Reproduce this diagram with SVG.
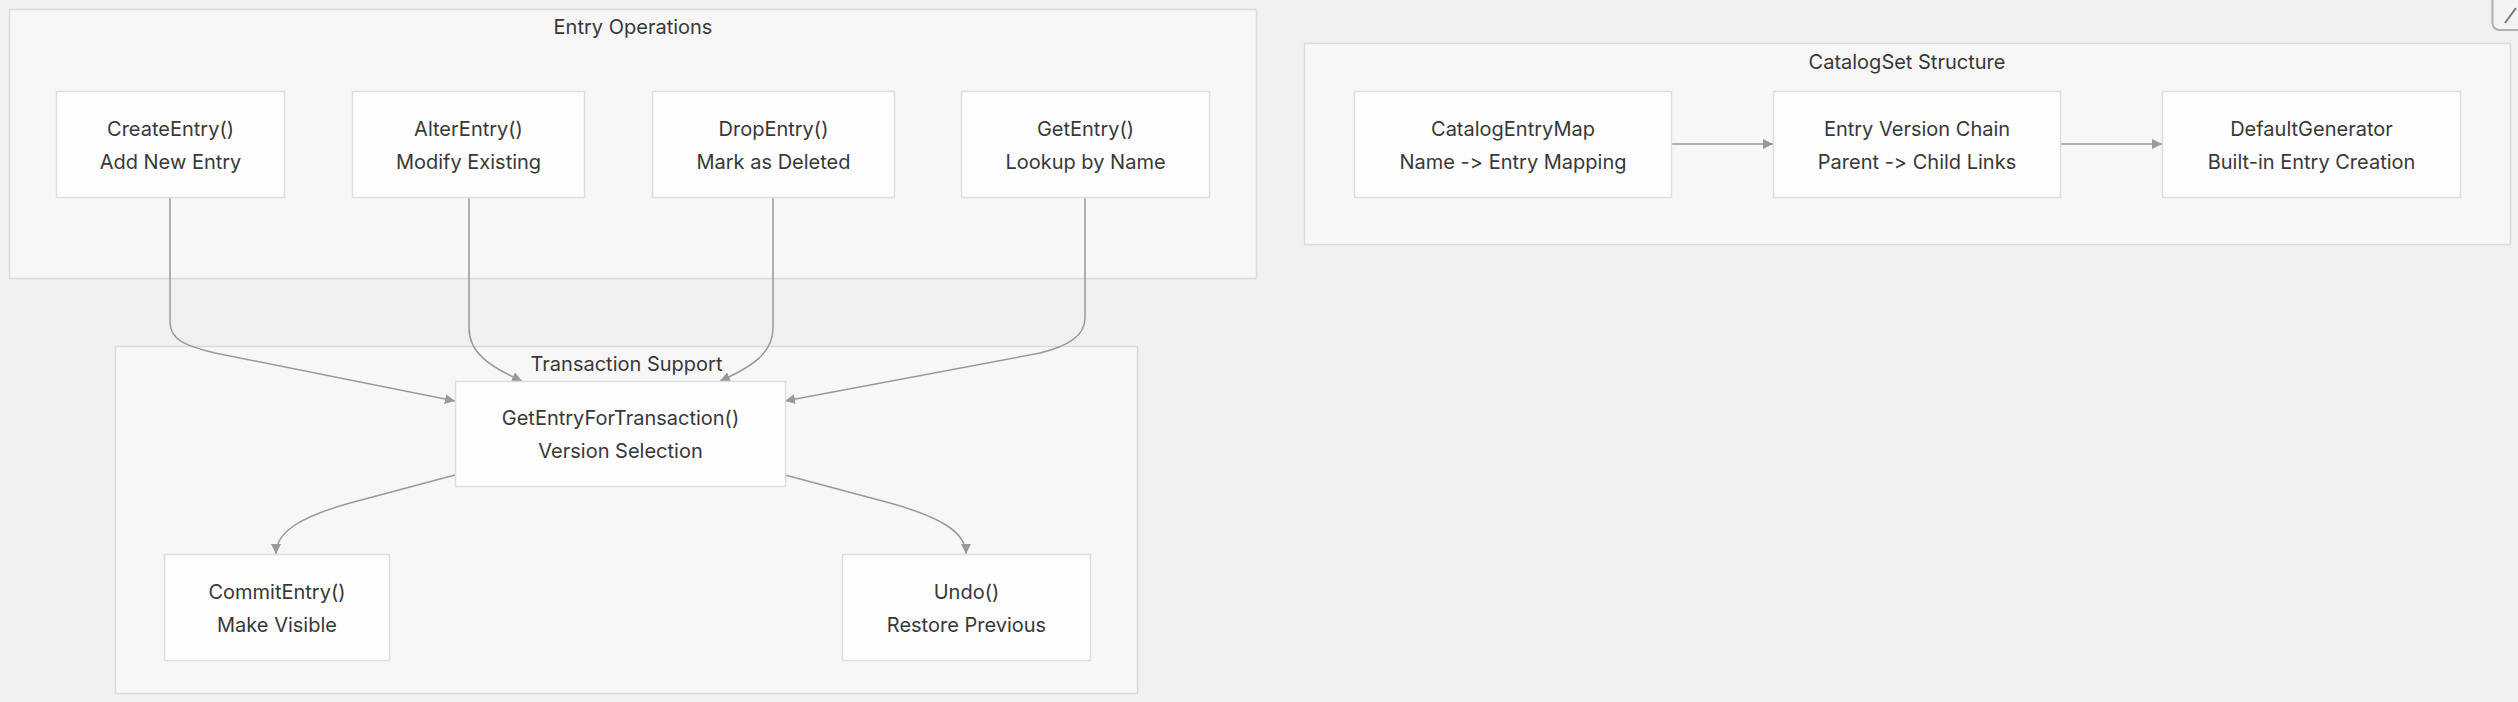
<svg xmlns="http://www.w3.org/2000/svg" width="2518" height="702" viewBox="0 0 2518 702">
<style>
.bg{fill:#f1f0ee}
.cluster{fill:#f7f7f7;stroke:#dadada;stroke-width:1.5}
.node rect{fill:#fefefe;stroke:#dedede;stroke-width:1.5}
text{font-family:Inter,"Liberation Sans",Arial,sans-serif;font-size:20px;fill:#383838;text-anchor:middle;font-variant-ligatures:none;font-feature-settings:"calt" 0,"liga" 0}
.edge{fill:none;stroke:#999;stroke-width:1.5}
</style>
<defs>
<marker id="arr" viewBox="0 0 10 10" refX="10" refY="5" markerWidth="10" markerHeight="10" markerUnits="userSpaceOnUse" orient="auto"><path d="M0,0 L10,5 L0,10 z" fill="#999"/></marker>
</defs>
<rect class="bg" x="0" y="0" width="2518" height="702"/>
<g id="cluster-entry-ops"><rect class="cluster" x="9.5" y="9.5" width="1247" height="269"/><text x="633" y="34">Entry Operations</text></g>
<g id="cluster-catalogset"><rect class="cluster" x="1304.5" y="43.5" width="1206" height="201"/><text x="1907" y="69">CatalogSet Structure</text></g>
<g id="cluster-transaction"><rect class="cluster" x="115.5" y="346.5" width="1022" height="347"/><text x="626.5" y="371">Transaction Support</text></g>

<g id="connectors">
<path class="edge" d="M170,197 L170,322 C170,340 186,346 215,353 L455,401" marker-end="url(#arr)"/>
<path class="edge" d="M469,197 L469,328 C469,352 488,366 522,381" marker-end="url(#arr)"/>
<path class="edge" d="M773,197 L773,328 C773,352 754,366 720,381" marker-end="url(#arr)"/>
<path class="edge" d="M1085,197 L1085,318 C1085,336 1068,346 1040,353 L785,401" marker-end="url(#arr)"/>
<path class="edge" d="M455,475 L350,503 C300,517 276,532 276,554" marker-end="url(#arr)"/>
<path class="edge" d="M785,475 L890,503 C940,517 966,532 966,554" marker-end="url(#arr)"/>
<path class="edge" d="M1671,144 L1773,144" marker-end="url(#arr)"/>
<path class="edge" d="M2060,144 L2162,144" marker-end="url(#arr)"/>
</g>

<g id="node-create" class="node"><rect x="56.5" y="91.5" width="228" height="106"/><text x="170.5" y="136">CreateEntry()</text><text x="170.5" y="169">Add New Entry</text></g>
<g id="node-alter" class="node"><rect x="352.5" y="91.5" width="232" height="106"/><text x="468.5" y="136">AlterEntry()</text><text x="468.5" y="169">Modify Existing</text></g>
<g id="node-drop" class="node"><rect x="652.5" y="91.5" width="242" height="106"/><text x="773.5" y="136">DropEntry()</text><text x="773.5" y="169">Mark as Deleted</text></g>
<g id="node-get" class="node"><rect x="961.5" y="91.5" width="248" height="106"/><text x="1085.5" y="136">GetEntry()</text><text x="1085.5" y="169">Lookup by Name</text></g>

<g id="node-map" class="node"><rect x="1354.5" y="91.5" width="317" height="106"/><text x="1513" y="136">CatalogEntryMap</text><text x="1513" y="169">Name -&gt; Entry Mapping</text></g>
<g id="node-chain" class="node"><rect x="1773.5" y="91.5" width="287" height="106"/><text x="1917" y="136">Entry Version Chain</text><text x="1917" y="169">Parent -&gt; Child Links</text></g>
<g id="node-default" class="node"><rect x="2162.5" y="91.5" width="298" height="106"/><text x="2311.5" y="136">DefaultGenerator</text><text x="2311.5" y="169">Built-in Entry Creation</text></g>

<g id="node-geft" class="node"><rect x="455.5" y="381.5" width="330" height="105"/><text x="620.5" y="425">GetEntryForTransaction()</text><text x="620.5" y="458">Version Selection</text></g>
<g id="node-commit" class="node"><rect x="164.5" y="554.5" width="225" height="106"/><text x="277" y="599">CommitEntry()</text><text x="277" y="632">Make Visible</text></g>
<g id="node-undo" class="node"><rect x="842.5" y="554.5" width="248" height="106"/><text x="966.5" y="599">Undo()</text><text x="966.5" y="632">Restore Previous</text></g>

<g id="corner-button"><rect x="2492.5" y="-12" width="40" height="42" rx="7" fill="#f4f4f4" stroke="#b0b0b0" stroke-width="2"/><path d="M2505,23 L2516,8" stroke="#777" stroke-width="2" fill="none"/></g>
</svg>
